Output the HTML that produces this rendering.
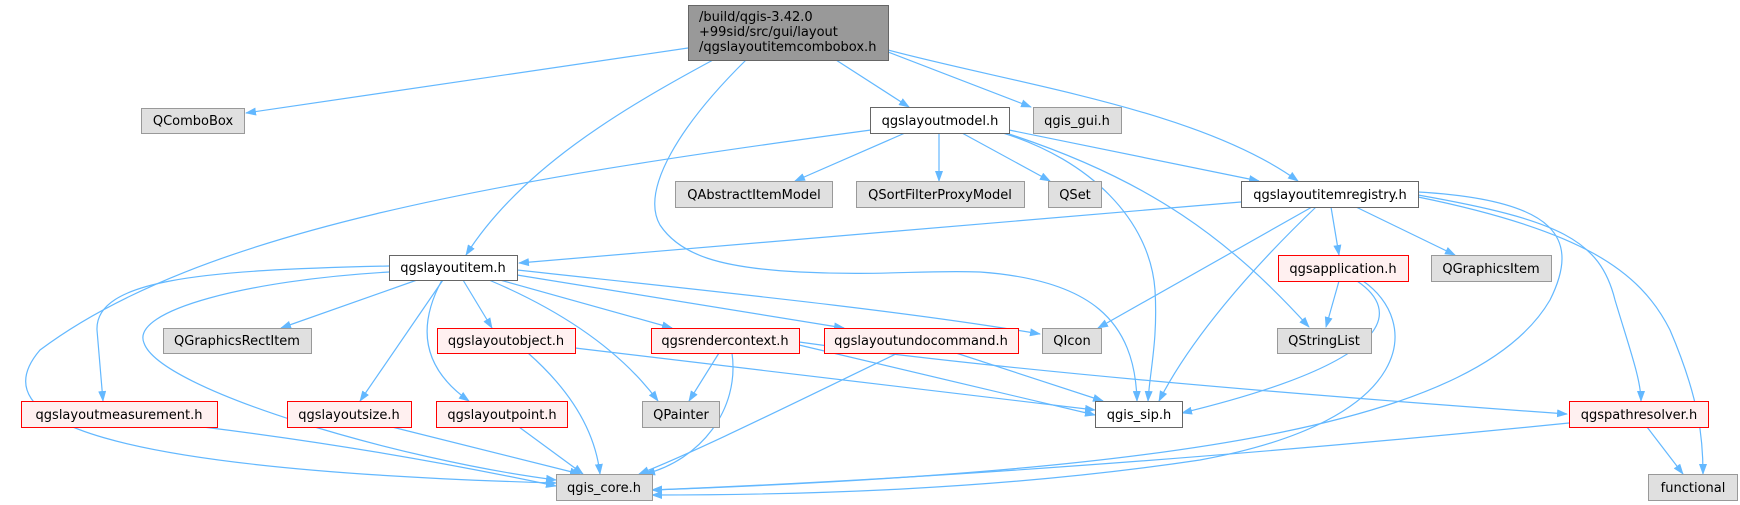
<!DOCTYPE html>
<html><head><meta charset="utf-8"><style>
html,body{margin:0;padding:0;background:#fff;}
svg{display:block;}
text{font-family:"DejaVu Sans","Liberation Sans",sans-serif;font-size:13px;fill:#000;}
.e{fill:none;stroke:#63b8ff;stroke-width:1.2;marker-end:url(#a);}
.g{fill:#e0e0e0;stroke:#999;}
.w{fill:#fff;stroke:#666;}
.r{fill:#fff0f0;stroke:#f00;}
</style></head><body>
<svg width="1740" height="505" viewBox="0 0 1740 505" xmlns="http://www.w3.org/2000/svg">
<defs><marker id="a" markerWidth="11" markerHeight="8" refX="10" refY="4" orient="auto" markerUnits="userSpaceOnUse"><path d="M0,0 L11,4 L0,8 z" fill="#63b8ff"/></marker></defs>
<!-- edges -->
<path class="e" d="M688,48 L246,113"/>
<path class="e" d="M713,60 C620,110 520,170 466,255"/>
<path class="e" d="M746,60 C680,125 640,190 660,225 C680,255 720,268 800,272 C880,276 920,270 980,272 C1090,280 1135,320 1137,401"/>
<path class="e" d="M836,60 L909,107"/>
<path class="e" d="M888,52 L1031,107"/>
<path class="e" d="M888,50 C1020,85 1200,110 1298,181"/>
<path class="e" d="M871,130 C500,180 200,230 40,350 C-20,420 100,470 556,483"/>
<path class="e" d="M905,133 L795,181"/>
<path class="e" d="M939,133 L939,181"/>
<path class="e" d="M962,133 L1050,181"/>
<path class="e" d="M1009,130 L1259,181"/>
<path class="e" d="M1003,133 C1090,160 1150,220 1155,290 C1158,340 1150,370 1148,401"/>
<path class="e" d="M1009,134 C1150,180 1230,240 1309,327"/>
<path class="e" d="M1241,202 L519,263"/>
<path class="e" d="M1312,207 L1098,328"/>
<path class="e" d="M1316,207 C1250,270 1190,340 1159,401"/>
<path class="e" d="M1331,207 L1339,255"/>
<path class="e" d="M1356,207 L1455,255"/>
<path class="e" d="M1418,192 C1560,200 1580,240 1550,300 C1480,420 1200,470 652,490"/>
<path class="e" d="M1418,195 C1560,220 1600,240 1615,300 C1630,350 1641,380 1641,401"/>
<path class="e" d="M1418,197 C1580,230 1640,270 1670,330 C1700,400 1703,440 1703,474"/>
<path class="e" d="M1339,281 L1326,327"/>
<path class="e" d="M1357,281 C1400,310 1400,360 1182,413"/>
<path class="e" d="M1363,281 C1420,320 1420,420 1200,460 C1000,490 800,495 652,495"/>
<path class="e" d="M417,280 L281,328"/>
<path class="e" d="M463,280 L492,328"/>
<path class="e" d="M443,280 L360,401"/>
<path class="e" d="M442,280 C415,330 425,370 469,401"/>
<path class="e" d="M489,280 C560,310 620,350 658,401"/>
<path class="e" d="M500,280 L672,328"/>
<path class="e" d="M517,275 L844,328"/>
<path class="e" d="M517,270 C700,290 900,310 1040,334"/>
<path class="e" d="M389,266 C200,270 95,280 97,330 L103,401"/>
<path class="e" d="M389,272 C250,280 130,310 144,343 C160,390 400,460 556,480"/>
<path class="e" d="M528,353 C570,390 595,430 600,474"/>
<path class="e" d="M575,348 L1095,410"/>
<path class="e" d="M719,353 L689,401"/>
<path class="e" d="M732,353 C740,410 700,460 645,474"/>
<path class="e" d="M799,345 L1095,415"/>
<path class="e" d="M799,342 C1000,370 1300,395 1567,414"/>
<path class="e" d="M898,353 C800,400 700,450 639,474"/>
<path class="e" d="M956,353 L1103,401"/>
<path class="e" d="M1569,423 C1200,460 900,480 652,490"/>
<path class="e" d="M1647,427 L1683,474"/>
<path class="e" d="M203,427 C350,445 480,470 556,486"/>
<path class="e" d="M392,427 L580,474"/>
<path class="e" d="M519,427 L583,474"/>
<!-- nodes -->
<rect x="688.5" y="5.5" width="200" height="55" fill="#999" stroke="#666"/>
<text x="699" y="21">/build/qgis-3.42.0</text>
<text x="699" y="36">+99sid/src/gui/layout</text>
<text x="699" y="51">/qgslayoutitemcombobox.h</text>
<g text-anchor="middle">
<rect class="g" x="141.5" y="108.5" width="103" height="25"/><text x="193" y="125">QComboBox</text>
<rect class="w" x="870.5" y="107.5" width="139" height="26"/><text x="940" y="125">qgslayoutmodel.h</text>
<rect class="g" x="1033.5" y="107.5" width="88" height="26"/><text x="1077" y="125">qgis_gui.h</text>
<rect class="g" x="675.5" y="181.5" width="157" height="26"/><text x="754" y="199">QAbstractItemModel</text>
<rect class="g" x="856.5" y="181.5" width="168" height="26"/><text x="940" y="199">QSortFilterProxyModel</text>
<rect class="g" x="1048.5" y="181.5" width="53" height="26"/><text x="1075" y="199">QSet</text>
<rect class="w" x="1241.5" y="181.5" width="177" height="26"/><text x="1330" y="199">qgslayoutitemregistry.h</text>
<rect class="w" x="389.5" y="255.5" width="128" height="25"/><text x="453" y="272">qgslayoutitem.h</text>
<rect class="r" x="1278.5" y="255.5" width="130" height="26"/><text x="1343" y="273">qgsapplication.h</text>
<rect class="g" x="1431.5" y="255.5" width="120" height="26"/><text x="1491" y="273">QGraphicsItem</text>
<rect class="g" x="163.5" y="328.5" width="148" height="25"/><text x="237" y="345">QGraphicsRectItem</text>
<rect class="r" x="437.5" y="328.5" width="138" height="25"/><text x="506" y="345">qgslayoutobject.h</text>
<rect class="r" x="651.5" y="328.5" width="148" height="25"/><text x="725" y="345">qgsrendercontext.h</text>
<rect class="r" x="824.5" y="328.5" width="194" height="25"/><text x="921" y="345">qgslayoutundocommand.h</text>
<rect class="g" x="1042.5" y="328.5" width="59" height="25"/><text x="1072" y="345">QIcon</text>
<rect class="g" x="1277.5" y="328.5" width="94" height="25"/><text x="1324" y="345">QStringList</text>
<rect class="r" x="21.5" y="401.5" width="196" height="26"/><text x="119" y="419">qgslayoutmeasurement.h</text>
<rect class="r" x="287.5" y="401.5" width="124" height="26"/><text x="349" y="419">qgslayoutsize.h</text>
<rect class="r" x="436.5" y="401.5" width="131" height="26"/><text x="502" y="419">qgslayoutpoint.h</text>
<rect class="g" x="642.5" y="401.5" width="77" height="26"/><text x="681" y="419">QPainter</text>
<rect class="w" x="1095.5" y="401.5" width="87" height="26"/><text x="1139" y="419">qgis_sip.h</text>
<rect class="r" x="1569.5" y="401.5" width="139" height="26"/><text x="1639" y="419">qgspathresolver.h</text>
<rect class="g" x="556.5" y="474.5" width="96" height="26"/><text x="604" y="492">qgis_core.h</text>
<rect class="g" x="1648.5" y="474.5" width="89" height="26"/><text x="1693" y="492">functional</text>
</g>
</svg>
</body></html>
